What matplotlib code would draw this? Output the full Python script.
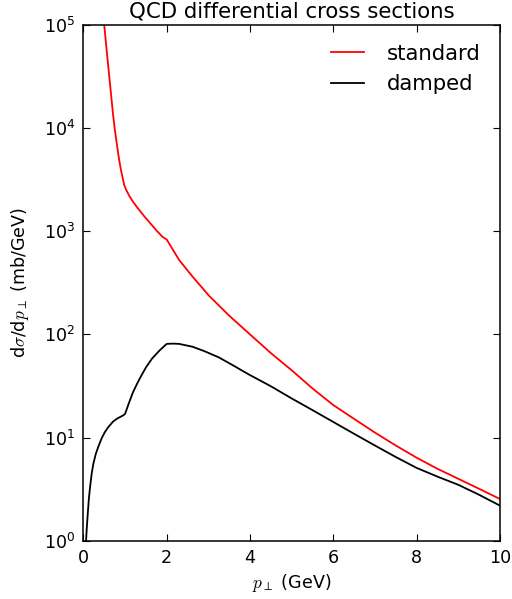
import matplotlib
matplotlib.use("Agg")
import matplotlib.pyplot as plt
from matplotlib.ticker import NullLocator

# ---- data ----
pt_standard = [0.45, 0.50, 0.56, 0.62, 0.665, 0.71, 0.75, 0.79, 0.84, 0.89, 0.935,
               0.98, 1.03, 1.10, 1.19, 1.30, 1.47, 1.60, 1.75, 1.90, 2.00, 2.30,
               2.62, 3.02, 3.50, 4.00, 4.50, 5.00, 5.50, 6.00, 6.50, 7.00, 7.50,
               8.00, 8.50, 9.00, 9.50, 10.00]
sigma_standard = [1.6e5, 1.0e5, 5.6e4, 3.2e4, 2.1e4, 1.38e4, 1.0e4, 7.6e3, 5.5e3,
                  4.15e3, 3.4e3, 2.8e3, 2.5e3, 2.2e3, 1.93e3, 1.68e3, 1.38e3,
                  1.2e3, 1.02e3, 880, 830, 525, 363, 236, 152, 100, 66, 45, 30,
                  20.7, 15.2, 11.2, 8.4, 6.4, 5.0, 4.0, 3.2, 2.55]

pt_damped = [0.045, 0.065, 0.08, 0.10, 0.13, 0.16, 0.20, 0.24, 0.30, 0.36, 0.44,
             0.52, 0.60, 0.71, 0.82, 0.95, 1.00, 1.10, 1.19, 1.30, 1.40, 1.51,
             1.65, 1.83, 2.00, 2.15, 2.30, 2.62, 2.90, 3.25, 3.60, 3.97, 4.50,
             5.00, 5.50, 6.00, 6.50, 7.00, 7.50, 8.00, 8.50, 9.00, 9.50, 10.00]
sigma_damped = [0.6, 1.0, 1.3, 1.7, 2.5, 3.3, 4.5, 5.6, 7.0, 8.2, 9.9, 11.4, 12.7,
                14.3, 15.4, 16.4, 17.0, 22, 27.5, 34, 40.5, 48.5, 58.5, 70, 81,
                81.5, 81, 76, 69, 60, 50, 41, 31.5, 24, 18.5, 14.2, 10.9, 8.4,
                6.5, 5.1, 4.2, 3.5, 2.8, 2.2]

series_labels = ["standard", "damped"]
title = "QCD differential cross sections"
xlabel = r"$p_\perp$ (GeV)"
ylabel = r"d$\sigma$/d$p_\perp$ (mb/GeV)"

plt.rcParams.update({
    "font.family": ["DejaVu Sans"],
    "font.size": 12.6,
    "mathtext.fontset": "cm",
    "xtick.direction": "in",
    "ytick.direction": "in",
    "xtick.top": True,
    "ytick.right": True,
    "xtick.major.size": 5,
    "ytick.major.size": 5,
    "xtick.major.pad": 6,
    "ytick.major.pad": 6,
    "lines.linewidth": 1.3,
    "axes.linewidth": 1.1,
})

fig = plt.figure(figsize=(5.12, 5.99), dpi=100)
ax = fig.add_axes([0.1628, 0.0968, 0.9766 - 0.1628, 0.959 - 0.0968])

ax.semilogy(pt_standard, sigma_standard, color="red", label=series_labels[0])
ax.semilogy(pt_damped, sigma_damped, color="black", label=series_labels[1])

ax.set_xlim(0, 10)
ax.set_ylim(1, 1e5)
ax.yaxis.set_minor_locator(NullLocator())
ax.set_title(title, fontsize=15.3, pad=5)
ax.set_xlabel(xlabel, labelpad=3)
ax.set_ylabel(ylabel, labelpad=9)

ax.legend(loc="upper right", frameon=False, fontsize=15.3,
          handlelength=1.55, handletextpad=1.1, labelspacing=0.5)

fig.savefig("out.png", dpi=100, facecolor="white")
